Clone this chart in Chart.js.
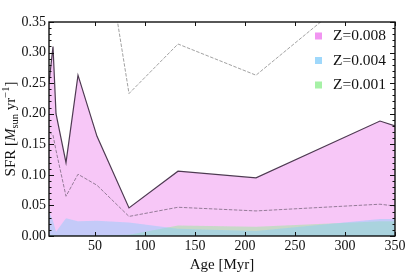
<!DOCTYPE html>
<html>
<head>
<meta charset="utf-8">
<script src="https://cdn.jsdelivr.net/npm/chart.js@4.4.1/dist/chart.umd.min.js"></script>
<style>
  html, body { margin: 0; padding: 0; background: #fff; }
  #wrap { width: 417px; height: 274px; }
</style>
</head>
<body>
<div id="wrap"><canvas id="sfrChart" width="417" height="274"></canvas></div>
<script>
// Star formation history data
const ages = [4, 8, 11, 21, 33, 52, 84, 133, 211, 335, 350];
const sfrZ008 = [0.25, 0.31, 0.20, 0.12, 0.263, 0.163, 0.046, 0.106, 0.095, 0.188, 0.18];
const sfrZ008Low = [0.17, 0.165, 0.14, 0.065, 0.101, 0.083, 0.032, 0.047, 0.041, 0.052, 0.049];
const sfrZ008High = [0.9, 1.1, 0.8, 0.45, 0.85, 0.56, 0.233, 0.314, 0.263, 0.43, 0.42];
const sfrZ004 = [0.04, 0.025, 0.007, 0.029, 0.024, 0.025, 0.022, 0.012, 0.008, 0.028, 0.028];
const sfrZ001 = [0.002, 0.002, 0.001, 0.001, 0.001, 0.001, 0.002, 0.017, 0.015, 0.024, 0.024];
const yTickValues = [0, 0.05, 0.10, 0.15, 0.20, 0.25, 0.30, 0.35];
const legendLabels = ['Z=0.008', 'Z=0.004', 'Z=0.001'];

const SERIF = '"Liberation Serif", "Times New Roman", serif';
const pts = (vals) => ages.map((a, i) => ({ x: a, y: vals[i] }));

// Inward ticks + frame, matplotlib style
const framePlugin = {
    id: 'frame',
    afterDatasetsDraw(chart) {
        const { ctx, chartArea: a, scales: { x, y } } = chart;
        ctx.save();
        ctx.strokeStyle = '#111';
        ctx.lineWidth = 1;
        ctx.beginPath();
        x.ticks.forEach(t => {
            const px = Math.round(x.getPixelForValue(t.value)) + 0.5;
            ctx.moveTo(px, a.bottom); ctx.lineTo(px, a.bottom - 4);
            ctx.moveTo(px, a.top); ctx.lineTo(px, a.top + 4);
        });
        for (let k = 0; k <= 35; k++) {
            const py = Math.round(y.getPixelForValue(k / 100)) + 0.5;
            const len = k % 5 === 0 ? 5 : 2.5;
            ctx.moveTo(a.left, py); ctx.lineTo(a.left + len, py);
            ctx.moveTo(a.right, py); ctx.lineTo(a.right - len, py);
        }
        ctx.stroke();
        ctx.lineWidth = 1.4;
        ctx.strokeRect(a.left, a.top, a.right - a.left, a.bottom - a.top);
        ctx.restore();
    }
};

// Axis titles (y title needs sub/superscript) and legend inside the axes
const labelsPlugin = {
    id: 'labels',
    afterDraw(chart) {
        const { ctx, chartArea: a } = chart;
        ctx.save();
        ctx.fillStyle = '#111';

        // x title
        ctx.font = '15px ' + SERIF;
        ctx.textAlign = 'center';
        ctx.textBaseline = 'alphabetic';
        ctx.fillText('Age [Myr]', (a.left + a.right) / 2, 269);

        // y title
        const parts = [
            { t: 'SFR [', f: '15px ' + SERIF, dy: 0 },
            { t: 'M', f: 'italic 15px ' + SERIF, dy: 0 },
            { t: 'sun', f: '10.5px ' + SERIF, dy: 3 },
            { t: ' yr', f: '15px ' + SERIF, dy: 0 },
            { t: '\u22121', f: '10.5px ' + SERIF, dy: -6 },
            { t: ']', f: '15px ' + SERIF, dy: 0 }
        ];
        let total = 0;
        parts.forEach(p => { ctx.font = p.f; p.w = ctx.measureText(p.t).width; total += p.w; });
        ctx.translate(15, (a.top + a.bottom) / 2);
        ctx.rotate(-Math.PI / 2);
        ctx.textAlign = 'left';
        let cx = -total / 2;
        parts.forEach(p => { ctx.font = p.f; ctx.fillText(p.t, cx, p.dy); cx += p.w; });
        ctx.setTransform(1, 0, 0, 1, 0, 0);

        // legend
        const fills = chart.data.datasets.filter(d => d.legendColor);
        ctx.font = '15.5px ' + SERIF;
        ctx.textBaseline = 'middle';
        fills.forEach((d, i) => {
            const cy = 36 + i * 24.5;
            ctx.fillStyle = d.legendColor;
            ctx.fillRect(315, cy - 3.5, 7, 7);
            ctx.fillStyle = '#111';
            ctx.fillText(d.label, 333, cy);
        });
        ctx.restore();
    }
};

document.addEventListener('DOMContentLoaded', () => {
    const ctx = document.getElementById('sfrChart');
    new Chart(ctx, {
        type: 'line',
        data: {
            datasets: [
                {
                    label: legendLabels[0],
                    data: pts(sfrZ008),
                    borderColor: 'rgb(78, 58, 82)',
                    borderWidth: 1.2,
                    backgroundColor: 'rgba(238, 130, 238, 0.45)',
                    legendColor: 'rgba(238, 130, 238, 0.85)',
                    fill: 'origin',
                    order: 4
                },
                {
                    label: 'Z=0.008 low',
                    data: pts(sfrZ008Low),
                    borderColor: 'rgba(70, 60, 75, 0.55)',
                    borderWidth: 1,
                    borderDash: [3.5, 1.5],
                    fill: false,
                    order: 0
                },
                {
                    label: 'Z=0.008 high',
                    data: pts(sfrZ008High),
                    borderColor: 'rgba(70, 70, 70, 0.5)',
                    borderWidth: 1,
                    borderDash: [3.5, 1.5],
                    fill: false,
                    order: 0
                },
                {
                    label: legendLabels[1],
                    data: pts(sfrZ004),
                    borderWidth: 0,
                    borderColor: 'rgba(0,0,0,0)',
                    backgroundColor: 'rgba(135, 206, 250, 0.45)',
                    legendColor: 'rgba(135, 206, 250, 0.8)',
                    fill: 'origin',
                    order: 2
                },
                {
                    label: legendLabels[2],
                    data: pts(sfrZ001),
                    borderWidth: 0,
                    borderColor: 'rgba(0,0,0,0)',
                    backgroundColor: 'rgba(144, 238, 144, 0.45)',
                    legendColor: 'rgba(144, 238, 144, 0.8)',
                    fill: 'origin',
                    order: 3
                }
            ]
        },
        options: {
            responsive: false,
            animation: false,
            clip: 0,
            elements: {
                point: { radius: 0 },
                line: { tension: 0 }
            },
            layout: {
                padding: { top: 22, right: 22, left: 0, bottom: 0 }
            },
            plugins: {
                legend: { display: false },
                tooltip: { enabled: false }
            },
            scales: {
                x: {
                    type: 'linear',
                    min: 4,
                    max: 350,
                    grid: { display: false, drawTicks: false },
                    border: { display: false },
                    ticks: {
                        stepSize: 50,
                        includeBounds: false,
                        padding: 2,
                        color: '#111',
                        font: { family: SERIF, size: 14 }
                    },
                    afterFit: (s) => { s.height = 38; }
                },
                y: {
                    min: 0,
                    max: 0.35,
                    grid: { display: false, drawTicks: false },
                    border: { display: false },
                    afterBuildTicks: (s) => { s.ticks = yTickValues.map(v => ({ value: v })); },
                    ticks: {
                        padding: 3,
                        color: '#111',
                        font: { family: SERIF, size: 14 },
                        callback: (v) => Number(v).toFixed(2)
                    },
                    afterFit: (s) => { s.width = 49; }
                }
            }
        },
        plugins: [framePlugin, labelsPlugin]
    });
});
</script>
</body>
</html>
